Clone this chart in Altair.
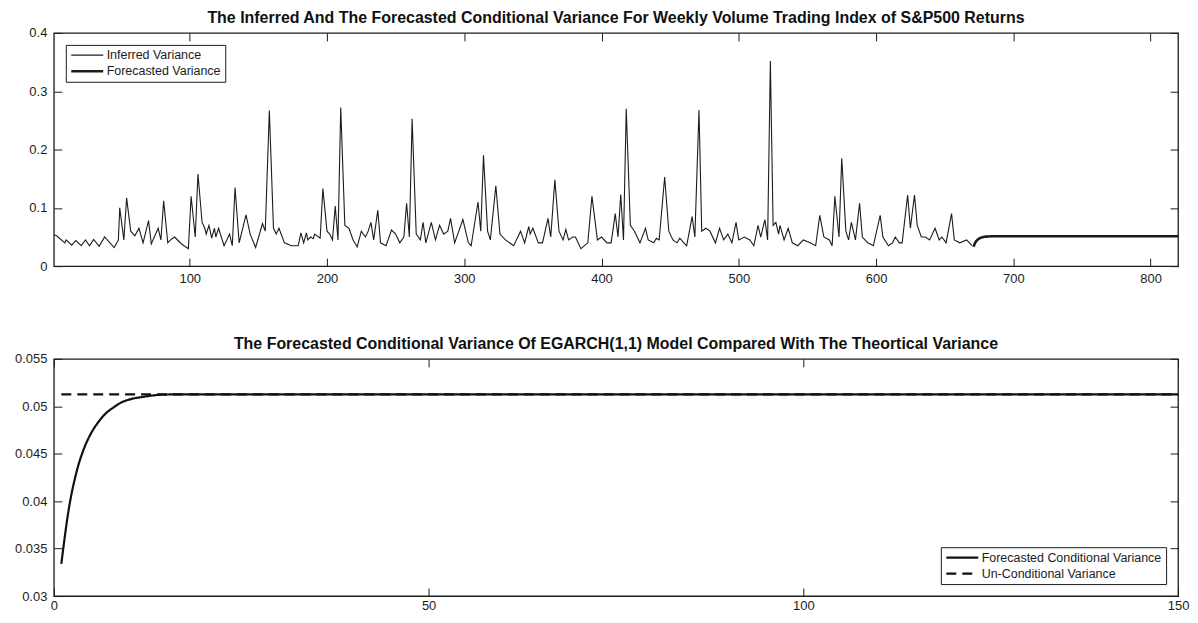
import altair as alt
import pandas as pd

FONT = "Liberation Sans"
INK = "#1c1c1c"

# ---------------- data ----------------
inferred_week = [1, 2, 3, 9, 10, 14, 17, 21, 24, 27, 30, 34, 38, 45, 48, 49, 52, 54, 57, 60,
                 63, 66, 70, 72, 77, 79, 81, 84, 86, 89, 94, 99, 101, 104, 106, 109, 111, 112, 114, 116,
                 118, 119, 121, 125, 129, 131, 133, 136, 141, 144, 148, 153, 155, 158, 161, 163, 165, 169, 174, 179,
                 181, 183, 185, 186, 188, 190, 191, 195, 197, 200, 202, 204, 206, 208, 210, 213, 216, 219, 222, 225,
                 228, 230, 232, 234, 237, 239, 243, 247, 250, 253, 256, 258, 260, 262, 265, 268, 270, 272, 276, 279,
                 282, 285, 288, 290, 293, 299, 303, 305, 310, 312, 314, 317, 319, 323, 326, 330, 336, 341, 344, 347,
                 348, 350, 354, 357, 361, 363, 366, 369, 372, 374, 376, 379, 381, 385, 390, 393, 397, 400, 404, 407,
                 410, 412, 414, 416, 418, 421, 424, 428, 432, 434, 438, 440, 442, 446, 449, 452, 455, 457, 462, 466,
                 468, 471, 473, 476, 479, 483, 486, 489, 492, 495, 498, 500, 504, 508, 511, 514, 516, 519, 521, 523,
                 525, 527, 529, 530, 533, 536, 539, 543, 547, 552, 556, 559, 562, 566, 568, 570, 573, 575, 578, 580,
                 582, 585, 588, 590, 594, 598, 603, 605, 609, 612, 614, 617, 619, 623, 625, 628, 630, 633, 636, 639,
                 643, 646, 648, 651, 655, 657, 661, 666, 668, 670]
inferred_var = [0.054, 0.053, 0.052, 0.040, 0.045, 0.036, 0.044, 0.035, 0.045, 0.035, 0.046, 0.034, 0.050, 0.032, 0.045, 0.100, 0.045, 0.117, 0.060, 0.052,
                0.065, 0.040, 0.078, 0.038, 0.065, 0.045, 0.112, 0.040, 0.045, 0.050, 0.038, 0.030, 0.120, 0.050, 0.158, 0.075, 0.065, 0.055, 0.070, 0.048,
                0.065, 0.050, 0.065, 0.035, 0.055, 0.035, 0.135, 0.040, 0.088, 0.055, 0.032, 0.073, 0.060, 0.267, 0.065, 0.055, 0.065, 0.040, 0.035, 0.035,
                0.057, 0.040, 0.057, 0.045, 0.050, 0.047, 0.055, 0.048, 0.133, 0.060, 0.055, 0.045, 0.103, 0.045, 0.272, 0.070, 0.065, 0.045, 0.033, 0.060,
                0.050, 0.060, 0.075, 0.045, 0.096, 0.040, 0.035, 0.062, 0.055, 0.040, 0.050, 0.108, 0.050, 0.253, 0.055, 0.045, 0.075, 0.040, 0.075, 0.045,
                0.070, 0.055, 0.060, 0.082, 0.040, 0.080, 0.040, 0.035, 0.110, 0.060, 0.190, 0.060, 0.045, 0.138, 0.055, 0.045, 0.035, 0.060, 0.040, 0.068,
                0.055, 0.065, 0.040, 0.040, 0.082, 0.050, 0.148, 0.060, 0.045, 0.063, 0.045, 0.050, 0.050, 0.030, 0.040, 0.120, 0.045, 0.050, 0.040, 0.040,
                0.090, 0.050, 0.123, 0.045, 0.270, 0.070, 0.060, 0.040, 0.065, 0.045, 0.040, 0.048, 0.045, 0.153, 0.060, 0.045, 0.040, 0.048, 0.035, 0.085,
                0.050, 0.268, 0.060, 0.065, 0.060, 0.040, 0.065, 0.045, 0.055, 0.040, 0.075, 0.045, 0.050, 0.045, 0.035, 0.070, 0.050, 0.080, 0.045, 0.352,
                0.070, 0.075, 0.055, 0.070, 0.045, 0.065, 0.040, 0.035, 0.045, 0.040, 0.035, 0.087, 0.050, 0.045, 0.035, 0.120, 0.050, 0.185, 0.060, 0.045,
                0.075, 0.045, 0.108, 0.050, 0.040, 0.035, 0.087, 0.050, 0.035, 0.040, 0.050, 0.040, 0.040, 0.122, 0.065, 0.122, 0.070, 0.050, 0.050, 0.045,
                0.065, 0.045, 0.050, 0.040, 0.090, 0.045, 0.040, 0.045, 0.040, 0.035]

forecast_step = [1, 2, 3, 4, 5, 6, 7, 8, 9, 10, 12, 14, 16, 20, 150]
forecast_var = [0.0334, 0.0392, 0.0430, 0.0455, 0.0472, 0.0484, 0.0493, 0.0499, 0.0504, 0.0507,
                0.0510, 0.0512, 0.05125, 0.05125, 0.05125]
unconditional_var = 0.05125
forecast_origin = 670  # last inferred week; forecasts follow it

top_series = ["Inferred Variance", "Forecasted Variance"]
bottom_series = ["Forecasted Conditional Variance", "Un-Conditional Variance"]

top_x_ticks = [100, 200, 300, 400, 500, 600, 700, 800]
top_y_ticks = [0, 0.1, 0.2, 0.3, 0.4]
bottom_x_ticks = [0, 50, 100, 150]
bottom_y_ticks = [0.03, 0.035, 0.04, 0.045, 0.05, 0.055]
top_x_domain = [1, 820]
top_y_domain = [0, 0.4]
bottom_x_domain = [0, 150]
bottom_y_domain = [0.03, 0.055]

top_title = "The Inferred And The Forecasted Conditional Variance For Weekly Volume Trading Index of S&P500 Returns"
bottom_title = "The Forecasted Conditional Variance Of EGARCH(1,1) Model Compared With The Theortical Variance"

top_df = pd.concat([
    pd.DataFrame({"t": inferred_week, "v": inferred_var, "series": top_series[0]}),
    pd.DataFrame({"t": [forecast_origin + s for s in forecast_step], "v": forecast_var, "series": top_series[1]}),
], ignore_index=True)

bottom_df = pd.concat([
    pd.DataFrame({"t": forecast_step, "v": forecast_var, "series": bottom_series[0]}),
    pd.DataFrame({"t": [forecast_step[0], forecast_step[-1]], "v": [unconditional_var, unconditional_var],
                  "series": bottom_series[1]}),
], ignore_index=True)

# ---------------- layout ----------------
W = 1128
H_TOP = 234
H_BOT = 238
TICK = 8


def label_axes(xt, yt, xpad):
    ax = alt.Axis(orient="bottom", values=xt, format="~r", ticks=False, tickSize=0, domain=False,
                  grid=False, title=None, labelPadding=xpad, labelFlush=False)
    ay = alt.Axis(orient="left", values=yt, format="~r", ticks=False, tickSize=0, domain=False,
                  grid=False, title=None, labelPadding=7)
    return ax, ay


def tick_layer(df, xs, ys, xt, yt, x_orient, y_orient, H):
    ax = alt.Axis(orient=x_orient, offset=-H, values=xt, labels=False, domain=False, grid=False,
                  title=None, ticks=True, tickSize=TICK, tickColor=INK, tickWidth=1)
    ay = alt.Axis(orient=y_orient, offset=-W, values=yt, labels=False, domain=False, grid=False,
                  title=None, ticks=True, tickSize=TICK, tickColor=INK, tickWidth=1)
    return alt.Chart(df).mark_point(opacity=0).encode(
        x=alt.X("t:Q", scale=xs, axis=ax),
        y=alt.Y("v:Q", scale=ys, axis=ay),
    )


def title_params(text):
    return alt.TitleParams(text=text, font=FONT, fontSize=16, fontWeight="bold", color="#111111",
                           anchor="middle", frame="group", offset=1)


legend_common = dict(title=None, symbolType="M-1,0H5.4", symbolSize=100, labelOffset=24,
                     labelFont=FONT, labelFontSize=12.5, labelColor=INK, labelLimit=400,
                     rowPadding=3, padding=4, strokeColor=INK, fillColor="white", offset=12)

# ----- top panel -----
xs_top = alt.Scale(domain=top_x_domain, nice=False, zero=False)
ys_top = alt.Scale(domain=top_y_domain, nice=False, zero=False)
ax_top, ay_top = label_axes(top_x_ticks, top_y_ticks, 6)

top_lines = alt.Chart(top_df).mark_line(color=INK, strokeCap="butt", strokeJoin="miter").encode(
    x=alt.X("t:Q", scale=xs_top, axis=ax_top),
    y=alt.Y("v:Q", scale=ys_top, axis=ay_top),
    strokeWidth=alt.StrokeWidth(
        "series:N",
        scale=alt.Scale(domain=top_series, range=[1.1, 2.6]),
        legend=alt.Legend(orient="top-left", symbolStrokeColor=INK, **legend_common),
    ),
    order=alt.Order("t:Q"),
)

top = alt.layer(
    top_lines,
    tick_layer(top_df, xs_top, ys_top, top_x_ticks, top_y_ticks, "top", "right", H_TOP),
    tick_layer(top_df, xs_top, ys_top, top_x_ticks, top_y_ticks, "bottom", "left", H_TOP),
).resolve_axis(x="independent", y="independent").properties(
    width=W, height=H_TOP, title=title_params(top_title)
)

# ----- bottom panel -----
xs_bot = alt.Scale(domain=bottom_x_domain, nice=False, zero=False)
ys_bot = alt.Scale(domain=bottom_y_domain, nice=False, zero=False)
ax_bot, ay_bot = label_axes(bottom_x_ticks, bottom_y_ticks, 4)

bottom_lines = alt.Chart(bottom_df).mark_line(color="#111111", strokeWidth=2.2, interpolate="monotone",
                                               strokeCap="butt").encode(
    x=alt.X("t:Q", scale=xs_bot, axis=ax_bot),
    y=alt.Y("v:Q", scale=ys_bot, axis=ay_bot),
    strokeDash=alt.StrokeDash(
        "series:N",
        scale=alt.Scale(domain=bottom_series, range=[[1, 0], [10, 6]]),
        legend=alt.Legend(orient="bottom-right", symbolStrokeColor="#111111", symbolStrokeWidth=2.2,
                          **legend_common),
    ),
    order=alt.Order("t:Q"),
)

bottom = alt.layer(
    bottom_lines,
    tick_layer(bottom_df, xs_bot, ys_bot, bottom_x_ticks, bottom_y_ticks, "top", "right", H_BOT),
    tick_layer(bottom_df, xs_bot, ys_bot, bottom_x_ticks, bottom_y_ticks, "bottom", "left", H_BOT),
).resolve_axis(x="independent", y="independent").properties(
    width=W, height=H_BOT, title=title_params(bottom_title)
)

chart = alt.vconcat(top, bottom, spacing=49).resolve_scale(
    strokeWidth="independent", strokeDash="independent"
).properties(
    padding={"left": 5, "top": 0, "right": 0, "bottom": 0},
    background="white",
).configure_view(
    stroke=INK, strokeWidth=1.3
).configure_axis(
    minExtent=0, labelFont=FONT, labelFontSize=13, labelColor=INK
)

chart.save("out.html", embed_options={"renderer": "svg", "actions": False})
